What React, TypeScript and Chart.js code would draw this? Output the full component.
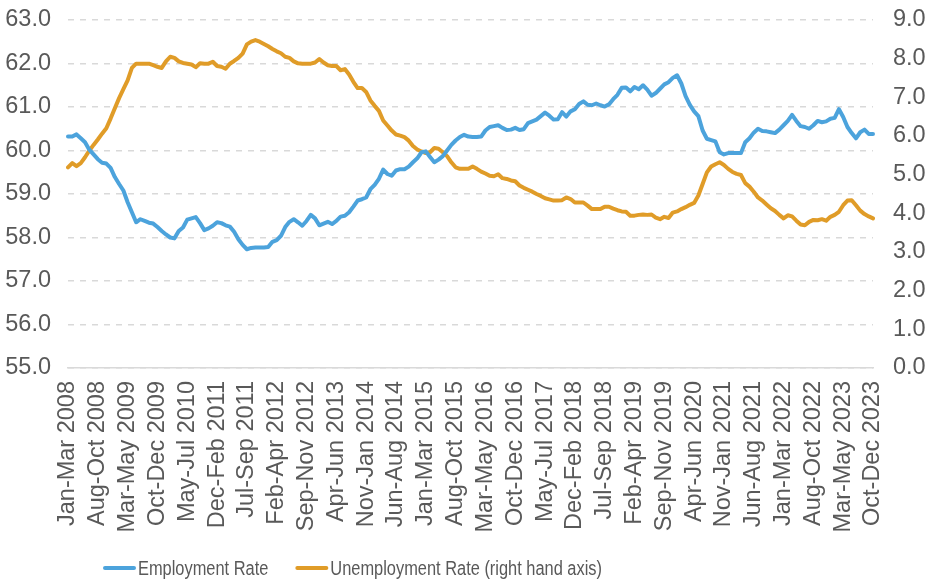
import React, { useEffect, useRef } from 'react';
import { Chart, registerables } from 'chart.js';

Chart.register(...registerables);

const MONTHS = ['Jan', 'Feb', 'Mar', 'Apr', 'May', 'Jun', 'Jul', 'Aug', 'Sep', 'Oct', 'Nov', 'Dec'];
const START_YEAR = 2008;
const LABEL_STEP = 7;

const employmentRate = [
  60.32, 60.32, 60.37, 60.28, 60.19, 60.02, 59.91, 59.80, 59.72, 59.70,
  59.60, 59.39, 59.23, 59.08, 58.81, 58.58, 58.35, 58.42, 58.38, 58.34,
  58.32, 58.24, 58.15, 58.07, 58.00, 57.98, 58.15, 58.23, 58.41, 58.44,
  58.47, 58.33, 58.17, 58.21, 58.27, 58.35, 58.33, 58.28, 58.25, 58.13,
  57.96, 57.83, 57.73, 57.76, 57.77, 57.77, 57.77, 57.78, 57.90, 57.94,
  58.04, 58.24, 58.36, 58.42, 58.35, 58.27, 58.38, 58.52, 58.44, 58.28,
  58.32, 58.36, 58.31, 58.38, 58.48, 58.50, 58.58, 58.71, 58.85, 58.88,
  58.92, 59.11, 59.21, 59.35, 59.56, 59.46, 59.42, 59.54, 59.57, 59.57,
  59.63, 59.73, 59.82, 59.96, 59.98, 59.85, 59.73, 59.79, 59.87, 60.00,
  60.13, 60.23, 60.31, 60.36, 60.32, 60.31, 60.31, 60.32, 60.46, 60.54,
  60.56, 60.58, 60.52, 60.47, 60.48, 60.52, 60.47, 60.49, 60.63, 60.67,
  60.71, 60.79, 60.87, 60.80, 60.71, 60.72, 60.88, 60.78, 60.90, 60.95,
  61.07, 61.13, 61.05, 61.04, 61.08, 61.04, 61.01, 61.06, 61.18, 61.28,
  61.44, 61.45, 61.36, 61.46, 61.41, 61.50, 61.40, 61.26, 61.32, 61.42,
  61.52, 61.57, 61.67, 61.73, 61.54, 61.25, 61.05, 60.90, 60.79, 60.46,
  60.27, 60.24, 60.21, 59.96, 59.91, 59.94, 59.94, 59.94, 59.94, 60.19,
  60.28, 60.41, 60.50, 60.45, 60.44, 60.42, 60.40, 60.48, 60.58, 60.68,
  60.82, 60.68, 60.56, 60.54, 60.50, 60.58, 60.68, 60.65, 60.67, 60.73,
  60.75, 60.95, 60.77, 60.54, 60.40, 60.28, 60.42, 60.48, 60.38, 60.38,
];

const unemploymentRate = [
  5.19, 5.30, 5.22, 5.30, 5.45, 5.62, 5.77, 5.91, 6.06, 6.20,
  6.45, 6.72, 6.98, 7.21, 7.44, 7.76, 7.87, 7.87, 7.87, 7.87,
  7.83, 7.79, 7.76, 7.93, 8.05, 8.02, 7.93, 7.89, 7.87, 7.85,
  7.78, 7.88, 7.87, 7.87, 7.92, 7.81, 7.79, 7.74, 7.87, 7.94,
  8.02, 8.13, 8.37, 8.44, 8.48, 8.44, 8.38, 8.32, 8.25, 8.19,
  8.14, 8.05, 8.02, 7.93, 7.88, 7.87, 7.87, 7.87, 7.90, 7.99,
  7.90, 7.83, 7.81, 7.81, 7.70, 7.73, 7.59, 7.40, 7.24, 7.24,
  7.14, 6.92, 6.78, 6.65, 6.40, 6.27, 6.14, 6.04, 6.01, 5.97,
  5.88, 5.74, 5.65, 5.60, 5.56, 5.58, 5.69, 5.67, 5.58, 5.48,
  5.32, 5.19, 5.15, 5.15, 5.15, 5.21, 5.15, 5.08, 5.03, 4.97,
  4.96, 5.01, 4.91, 4.89, 4.85, 4.83, 4.72, 4.66, 4.61, 4.56,
  4.50, 4.45, 4.39, 4.36, 4.33, 4.33, 4.34, 4.41, 4.37, 4.28,
  4.28, 4.28, 4.20, 4.11, 4.11, 4.11, 4.17, 4.17, 4.12, 4.08,
  4.05, 4.04, 3.94, 3.94, 3.96, 3.97, 3.96, 3.97, 3.89, 3.85,
  3.91, 3.88, 4.02, 4.05, 4.11, 4.16, 4.22, 4.27, 4.46, 4.76,
  5.06, 5.21, 5.27, 5.32, 5.25, 5.15, 5.07, 5.02, 4.99, 4.78,
  4.69, 4.56, 4.41, 4.33, 4.23, 4.13, 4.06, 3.96, 3.87, 3.95,
  3.92, 3.81, 3.71, 3.69, 3.78, 3.83, 3.82, 3.85, 3.81, 3.91,
  3.96, 4.04, 4.21, 4.33, 4.34, 4.21, 4.07, 3.98, 3.92, 3.87,
];

// rolling three-month periods, labelled with the year of the last month
const periodLabels = employmentRate.map((_, i) => {
  const m = i % 12;
  const endYear = START_YEAR + Math.floor((i + 2) / 12);
  return `${MONTHS[m]}-${MONTHS[(m + 2) % 12]} ${endYear}`;
});

const seriesNames = ['Employment Rate', 'Unemployment Rate (right hand axis)'];
const BLUE = '#4ca3dc';
const ORANGE = '#e09c28';
const TEXT = '#595959';
const GRID = '#d9d9d9';
const TICK_FONT = "'Liberation Sans', Arial, sans-serif";
const TICK_SIZE = 23.5;

const bottomLegend = {
  id: 'bottomLegend',
  afterDraw(chart: any) {
    const ctx = chart.ctx;
    const squeeze = 0.82;
    ctx.save();
    ctx.font = "20px 'Liberation Sans', Arial, sans-serif";
    ctx.textBaseline = 'middle';
    ctx.textAlign = 'left';
    const y = 568;
    let x = 103;
    chart.data.datasets.forEach((ds: any) => {
      ctx.strokeStyle = ds.borderColor;
      ctx.lineWidth = 4;
      ctx.lineCap = 'round';
      ctx.beginPath();
      ctx.moveTo(x + 2, y);
      ctx.lineTo(x + 31, y);
      ctx.stroke();
      x += 35;
      ctx.save();
      ctx.translate(x, y + 1);
      ctx.scale(squeeze, 1);
      ctx.fillStyle = TEXT;
      ctx.fillText(ds.label, 0, 0);
      ctx.restore();
      x += ctx.measureText(ds.label).width * squeeze + 27;
    });
    ctx.restore();
  },
};

const noVerticalPadding = (scale: any, width: number) => {
  scale.width = width;
  scale.paddingTop = 0;
  scale.paddingBottom = 0;
};

export default function App() {
  const canvasRef = useRef<HTMLCanvasElement | null>(null);

  useEffect(() => {
    document.body.style.margin = '0';
    const canvas = canvasRef.current;
    if (!canvas) return;
    const chart = new Chart(canvas, {
      type: 'line',
      data: {
        labels: periodLabels,
        datasets: [
          {
            label: seriesNames[0],
            data: employmentRate,
            borderColor: BLUE,
            backgroundColor: BLUE,
            borderWidth: 4,
            pointRadius: 0,
            tension: 0,
            borderJoinStyle: 'round',
            borderCapStyle: 'round',
            yAxisID: 'y',
          },
          {
            label: seriesNames[1],
            data: unemploymentRate,
            borderColor: ORANGE,
            backgroundColor: ORANGE,
            borderWidth: 4,
            pointRadius: 0,
            tension: 0,
            borderJoinStyle: 'round',
            borderCapStyle: 'round',
            yAxisID: 'y1',
          },
        ],
      },
      options: {
        responsive: false,
        animation: false,
        layout: { padding: { top: 20, left: 0, right: 0, bottom: 0 } },
        plugins: {
          legend: { display: false },
          tooltip: { enabled: false },
        },
        scales: {
          x: {
            type: 'category',
            grid: { display: false, drawTicks: false },
            border: { display: true, color: GRID, width: 1.5 },
            ticks: {
              autoSkip: false,
              maxRotation: 90,
              minRotation: 90,
              padding: 13,
              color: TEXT,
              font: { family: TICK_FONT, size: TICK_SIZE },
              callback: (_v: any, idx: number) => (idx % LABEL_STEP === 0 ? periodLabels[idx] : ''),
            },
            afterFit: (scale: any) => {
              scale.height = 211;
              scale.paddingLeft = 0;
              scale.paddingRight = 0;
            },
          },
          y: {
            position: 'left',
            min: 55,
            max: 63,
            grid: { color: GRID, lineWidth: 1.5, drawTicks: false },
            border: { display: false, dash: [6, 6] },
            ticks: {
              stepSize: 1,
              padding: 17,
              color: TEXT,
              font: { family: TICK_FONT, size: TICK_SIZE },
              callback: (v: any) => Number(v).toFixed(1),
            },
            afterFit: (scale: any) => noVerticalPadding(scale, 68),
          },
          y1: {
            position: 'right',
            min: 0,
            max: 9,
            grid: { display: false, drawTicks: false },
            border: { display: false },
            ticks: {
              stepSize: 1,
              padding: 20,
              color: TEXT,
              font: { family: TICK_FONT, size: TICK_SIZE },
              callback: (v: any) => Number(v).toFixed(1),
            },
            afterFit: (scale: any) => noVerticalPadding(scale, 61),
          },
        },
      },
      plugins: [bottomLegend],
    } as any);
    return () => chart.destroy();
  }, []);

  return (
    <div style={{ position: 'fixed', left: 0, top: 0, width: 934, height: 579, background: '#fff' }}>
      <canvas ref={canvasRef} width={934} height={579} />
    </div>
  );
}
